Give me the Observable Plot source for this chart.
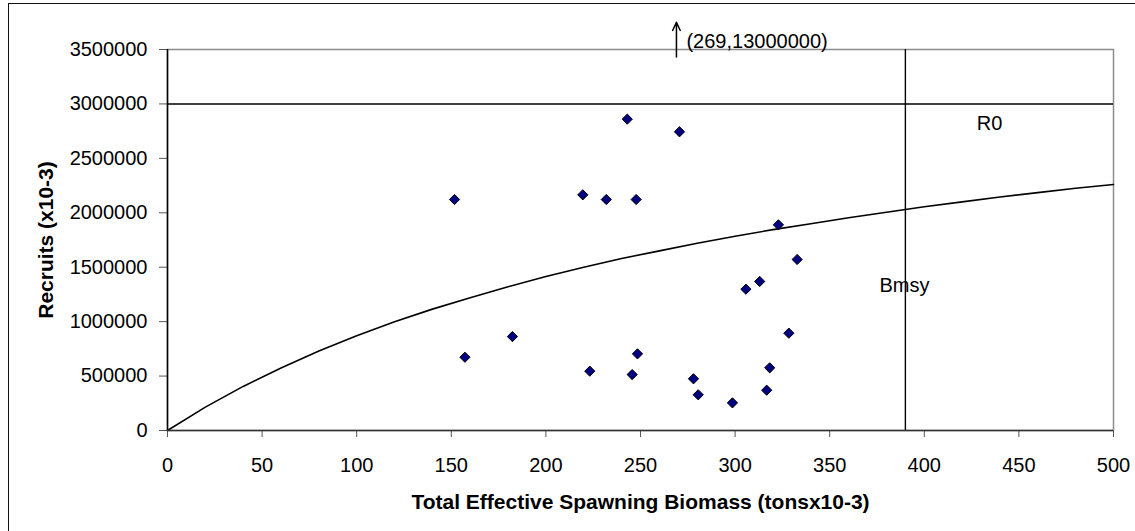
<!DOCTYPE html>
<html><head><meta charset="utf-8">
<script src="https://cdn.jsdelivr.net/npm/d3@7"></script>
<script src="https://cdn.jsdelivr.net/npm/@observablehq/plot@0.6"></script>
<style>
body{margin:0;background:#fff;}
#wrap{position:relative;width:1135px;height:531px;overflow:hidden;}
#border{position:absolute;left:8px;top:3px;width:1200px;height:600px;border:1.5px solid #111;pointer-events:none;}
</style></head><body>
<div id="wrap"><div id="chart"></div><div id="border"></div></div>
<script>
// Stock–recruitment observations
const biomass  = [151.7, 157.2, 182.3, 243.0, 270.6, 219.5, 231.9, 247.7, 322.9, 332.8, 313.0,
                  305.7, 328.4, 248.4, 223.2, 245.6, 318.3, 278.0, 280.5, 298.6, 316.7];
const recruits = [2122000, 673000, 863000, 2860000, 2744000, 2165000, 2122000, 2122000, 1889000, 1571000, 1369000,
                  1298000, 894000, 704000, 545000, 514000, 576000, 475000, 328000, 254000, 370000];
// Fitted stock–recruitment curve
const curveS = [0, 20, 40, 60, 80, 100, 120, 140, 160, 180, 200, 220, 240, 260, 280, 300,
                320, 340, 360, 380, 400, 420, 440, 460, 480, 500];
const curveR = [0, 215000, 405000, 575000, 730000, 870000, 1000000, 1115000, 1220000, 1320000, 1415000,
                1500000, 1580000, 1650000, 1720000, 1785000, 1845000, 1900000, 1955000, 2005000, 2055000,
                2100000, 2145000, 2185000, 2225000, 2260000];
// Reference values
const R0 = 3000000;
const Bmsy = 390;
// Off-scale point
const outlierX = 269;
const outlierLabel = "(269,13000000)";
const arrowFrom = 3430000, arrowTo = 3750000, outlierTextY = 3575000;
// Labels
const r0Label = {x: 434.5, y: 2820000, text: "R0"};
const bmsyLabel = {x: 389.5, y: 1332000, text: "Bmsy"};
const xTicks = [0, 50, 100, 150, 200, 250, 300, 350, 400, 450, 500];
const yTicks = [0, 500000, 1000000, 1500000, 2000000, 2500000, 3000000, 3500000];
const xTitle = "Total Effective Spawning Biomass (tonsx10-3)";
const yTitle = {x: -64, y: 1750000, text: "Recruits (x10-3)"};

const points = biomass.map((b, i) => ({b, r: recruits[i]}));
const curve = curveS.map((s, i) => ({s, r: curveR[i]}));

const chart = Plot.plot({
  width: 1135, height: 531,
  marginLeft: 167, marginRight: 22, marginTop: 49, marginBottom: 101,
  style: {fontFamily: "'Liberation Sans', Arial, sans-serif", fontSize: "20px", color: "#000", background: "#fff", overflow: "visible"},
  x: {domain: [0, 500]},
  y: {domain: [0, 3500000]},
  marks: [
    Plot.frame({stroke: "#8c8c8c", strokeWidth: 1.5}),
    Plot.axisX({ticks: xTicks, tickSize: 7, tickPadding: 20, tickFormat: d => String(d), label: null, stroke: "#555"}),
    Plot.axisY({ticks: yTicks, tickSize: 8, tickPadding: 12, tickFormat: d => String(d), label: null, stroke: "#555"}),
    Plot.ruleY([R0], {stroke: "#000", strokeWidth: 1.4}),
    Plot.ruleX([Bmsy], {stroke: "#000", strokeWidth: 1.4}),
    Plot.line(curve, {x: "s", y: "r", stroke: "#000", strokeWidth: 1.6}),
    Plot.ruleX([0], {stroke: "#000", strokeWidth: 1.5}),
    Plot.ruleY([0], {stroke: "#333", strokeWidth: 1.5}),
    Plot.dot(points, {x: "b", y: "r", symbol: "diamond2", r: 4.6, fill: "#000080", stroke: "#000", strokeWidth: 1}),
    Plot.arrow([outlierX], {x1: d => d, x2: d => d, y1: arrowFrom, y2: arrowTo, stroke: "#000", strokeWidth: 1.5, headLength: 9, headAngle: 50}),
    Plot.text([outlierLabel], {x: outlierX, y: outlierTextY, dx: 10, textAnchor: "start", fontSize: 20, fill: "#000"}),
    Plot.text([r0Label], {x: "x", y: "y", text: "text", fontSize: 20, fill: "#000"}),
    Plot.text([bmsyLabel], {x: "x", y: "y", text: "text", fontSize: 20, fill: "#000"}),
    Plot.text([xTitle], {frameAnchor: "bottom", dy: 78, fontWeight: "bold", fontSize: 21, fill: "#000"}),
    Plot.text([yTitle], {x: "x", y: "y", text: "text", rotate: -90, fontWeight: "bold", fontSize: 21, fill: "#000"})
  ]
});
document.getElementById("chart").appendChild(chart);
</script>
</body></html>
